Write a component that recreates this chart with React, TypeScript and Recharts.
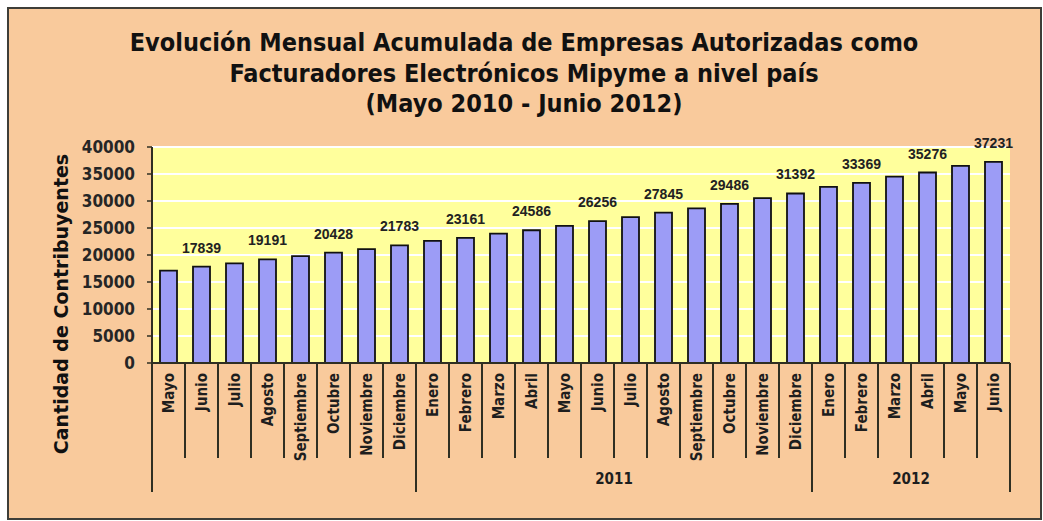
import React from "react";
import {
  BarChart,
  Bar,
  XAxis,
  YAxis,
  CartesianGrid,
  LabelList,
} from "recharts";

const months = [
  "Mayo", "Junio", "Julio", "Agosto", "Septiembre", "Octubre", "Noviembre", "Diciembre",
  "Enero", "Febrero", "Marzo", "Abril", "Mayo", "Junio", "Julio", "Agosto", "Septiembre", "Octubre", "Noviembre", "Diciembre",
  "Enero", "Febrero", "Marzo", "Abril", "Mayo", "Junio",
];
const years = [
  2010, 2010, 2010, 2010, 2010, 2010, 2010, 2010,
  2011, 2011, 2011, 2011, 2011, 2011, 2011, 2011, 2011, 2011, 2011, 2011,
  2012, 2012, 2012, 2012, 2012, 2012,
];
const values = [
  17100, 17839, 18450, 19191, 19800, 20428, 21100, 21783,
  22600, 23161, 23950, 24586, 25400, 26256, 27000, 27845, 28650, 29486, 30550, 31392,
  32600, 33369, 34500, 35276, 36500, 37231,
];
// which bars carry a data label
const labeled = [
  false, true, false, true, false, true, false, true,
  false, true, false, true, false, true, false, true, false, true, false, true,
  false, true, false, true, false, true,
];
const yearLabels: Record<number, string> = { 2010: "", 2011: "2011", 2012: "2012" };
const yTicks = [0, 5000, 10000, 15000, 20000, 25000, 30000, 35000, 40000];
const titleLines = [
  "Evolución Mensual Acumulada  de Empresas Autorizadas como",
  "Facturadores Electrónicos Mipyme a nivel país",
  "(Mayo 2010 - Junio 2012)",
];
const yTitle = "Cantidad de Contribuyentes";

const data = months.map((m, i) => ({
  key: `${m} ${years[i]}`,
  month: m,
  year: years[i],
  value: values[i],
  label: labeled[i] ? values[i] : undefined,
}));

const W = 1043;
const H = 521;
const PLOT_LEFT = 152;
const PLOT_RIGHT = 1010;
const BAND = (PLOT_RIGHT - PLOT_LEFT) / data.length;

const LINE = "#2f2f22";
const TEXT = "#1e1e1e";
const FONT = "'DejaVu Sans Condensed', 'DejaVu Sans', sans-serif";

function MonthTick(props: any) {
  const { x, y, payload } = props;
  const i: number = payload.index;
  const row = data[i];
  const half = BAND / 2;
  const first = data.findIndex((d) => d.year === row.year);
  let last = first;
  while (last + 1 < data.length && data[last + 1].year === row.year) last++;
  const groupStart = i === first;
  const isLast = i === data.length - 1;
  const center = (first + last) / 2;
  const yl = yearLabels[row.year];
  return (
    <g>
      <line
        x1={x - half}
        x2={x - half}
        y1={y}
        y2={groupStart ? y + 129 : y + 95}
        stroke={LINE}
        strokeWidth={2}
      />
      {isLast && (
        <line x1={x + half} x2={x + half} y1={y} y2={y + 129} stroke={LINE} strokeWidth={2} />
      )}
      <text
        transform={`translate(${x + 5.5},${y + 10}) rotate(-90)`}
        textAnchor="end"
        fontFamily={FONT}
        fontWeight="bold"
        fontSize={15}
        fill={TEXT}
      >
        {row.month}
      </text>
      {groupStart && yl && (
        <text
          x={x + (center - i) * BAND}
          y={y + 121}
          textAnchor="middle"
          fontFamily={FONT}
          fontWeight="bold"
          fontSize={15}
          fill={TEXT}
        >
          {yl}
        </text>
      )}
    </g>
  );
}

export default function App() {
  return (
    <div style={{ position: "absolute", left: 0, top: 0, width: W, height: H }}>
      <div
        style={{
          position: "absolute",
          left: 7,
          top: 7,
          width: 1031,
          height: 509,
          background: "#f9ca9c",
          border: "2px solid #3e3e38",
        }}
      />
      <div style={{ position: "absolute", left: 0, top: 0 }}>
        <BarChart
          width={W}
          height={H}
          data={data}
          margin={{ top: 147, right: W - PLOT_RIGHT, bottom: 28, left: PLOT_LEFT - 80 }}
          barSize={17}
        >
          <CartesianGrid
            vertical={false}
            fill="#ffff9c"
            stroke="#ffffff"
            strokeWidth={2}
            horizontalValues={yTicks}
          />
          <XAxis
            dataKey="key"
            interval={0}
            height={130}
            tickLine={false}
            tickSize={0}
            tickMargin={0}
            axisLine={{ stroke: LINE, strokeWidth: 2 }}
            tick={<MonthTick />}
          />
          <YAxis
            width={80}
            domain={[0, 40000]}
            ticks={yTicks}
            interval={0}
            tickSize={5}
            tickMargin={12}
            axisLine={{ stroke: LINE, strokeWidth: 2 }}
            tickLine={{ stroke: LINE, strokeWidth: 1.5 }}
            tick={{ fontFamily: FONT, fontSize: 17, fill: "#262626", fontWeight: "bold" }}
          />
          <Bar
            dataKey="value"
            fill="#9c9cf6"
            stroke="#111111"
            strokeWidth={1.8}
            isAnimationActive={false}
          >
            <LabelList
              dataKey="label"
              position="top"
              offset={14}
              style={{
                fontFamily: "'Liberation Sans', Arial, sans-serif",
                fontSize: 14,
                fontWeight: "bold",
                fill: "#222222",
              }}
            />
          </Bar>
        </BarChart>
      </div>
      <svg
        width={W}
        height={H}
        style={{ position: "absolute", left: 0, top: 0, pointerEvents: "none" }}
      >
        {titleLines.map((t, k) => (
          <text
            key={k}
            x={524}
            y={[51, 82, 112][k]}
            textAnchor="middle"
            fontFamily={FONT}
            fontWeight="bold"
            fontSize={25}
            fill="#111111"
          >
            {t}
          </text>
        ))}
        <text
          transform="translate(68,304) rotate(-90)"
          textAnchor="middle"
          fontFamily="'DejaVu Sans', sans-serif"
          fontWeight="bold"
          fontSize={19}
          fill="#111111"
        >
          {yTitle}
        </text>
      </svg>
    </div>
  );
}
